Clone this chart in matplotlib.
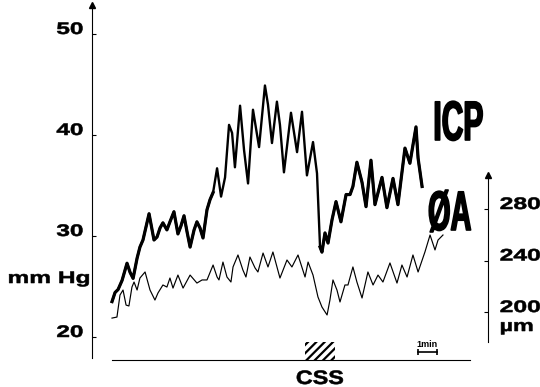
import matplotlib
matplotlib.use("Agg")
import matplotlib.pyplot as plt
from matplotlib import patheffects
from matplotlib.patches import Rectangle
from matplotlib.transforms import Affine2D

# ---- data -----------------------------------------------------------------
# intracranial pressure (mm Hg) against time (min)
icp_t = [0.00, 0.16, 0.32, 0.53, 0.79, 0.95, 1.11, 1.32, 1.47, 1.63, 1.95, 2.21,
         2.37, 2.53, 2.68, 2.89, 3.05, 3.26, 3.47, 3.63, 3.79, 3.95, 4.11, 4.32,
         4.47, 4.63, 4.79, 5.00, 5.16, 5.32, 5.53, 5.74, 5.95, 6.16, 6.32, 6.47,
         6.74, 6.95, 7.16, 7.42, 7.74, 8.05, 8.21, 8.42, 8.68, 8.84, 9.05, 9.42,
         9.74, 10.00, 10.26, 10.58, 10.79, 10.95, 11.05, 11.21, 11.37, 11.58,
         11.79, 12.05, 12.32, 12.53, 12.68, 12.89, 13.16, 13.37, 13.63, 13.84,
         14.21, 14.47, 14.79, 15.05, 15.42, 15.68, 16.00, 16.11, 16.32]
icp_mmhg = [23.5, 24.4, 24.7, 25.6, 27.3, 26.4, 25.8, 27.8, 28.9, 29.6, 32.2, 29.6,
            29.9, 30.8, 31.3, 30.6, 31.4, 32.4, 30.2, 31.0, 32.0, 30.4, 28.9, 30.6,
            31.4, 30.8, 29.8, 32.6, 33.6, 34.3, 36.7, 33.9, 35.8, 41.0, 40.2, 36.8,
            42.9, 38.5, 35.2, 42.5, 38.8, 44.9, 43.0, 39.2, 43.3, 41.0, 36.3, 42.2,
            38.3, 42.3, 36.0, 39.3, 36.2, 28.9, 28.4, 30.3, 29.3, 31.6,
            33.4, 31.4, 34.1, 34.1, 34.9, 37.3, 35.3, 32.9, 37.5, 33.1,
            35.8, 32.8, 35.7, 33.1, 38.7, 37.2, 40.8, 37.7, 34.9]

# pial arteriolar diameter (um) against time (min)
da_t = [0.00, 0.26, 0.42, 0.58, 0.74, 0.89, 1.05, 1.16, 1.32, 1.47, 1.74, 2.00,
        2.26, 2.42, 2.68, 2.89, 3.05, 3.21, 3.47, 3.74, 4.11, 4.47, 4.74, 5.00,
        5.32, 5.53, 5.63, 5.84, 6.05, 6.26, 6.37, 6.63, 6.89, 7.05, 7.26, 7.53,
        7.68, 7.95, 8.21, 8.47, 8.84, 9.21, 9.47, 9.79, 10.16, 10.32, 10.58,
        10.84, 11.05, 11.32, 11.47, 11.63, 11.84, 12.00, 12.26, 12.42, 12.68,
        12.89, 13.16, 13.47, 13.74, 14.00, 14.26, 14.63, 15.00, 15.26, 15.53,
        15.84, 16.11, 16.47, 16.74, 17.00, 17.16, 17.42]
da_um = [195.3, 196.1, 213.2, 217.1, 205.4, 204.7, 219.4, 223.3, 217.1, 226.4, 231.1, 217.1,
         209.3, 214.8, 221.0, 219.4, 226.4, 218.6, 228.7, 218.6, 228.7, 222.5, 224.9, 224.9,
         236.5, 227.2, 224.9, 238.8, 227.2, 223.3, 235.0, 244.3, 232.6, 227.2, 242.7, 234.2,
         231.1, 245.8, 235.0, 246.6, 226.4, 240.4, 235.0, 244.3, 227.2, 238.8, 228.7,
         211.7, 203.9, 197.7, 209.3, 224.9, 217.1, 207.8, 221.0, 221.0, 235.0,
         223.3, 210.9, 231.1, 221.0, 228.7, 223.3, 238.1, 222.5, 236.5, 227.2,
         244.3, 231.1, 246.6, 259.8, 248.2, 255.9, 259.8]

icp_ticks = [20, 30, 40, 50]
da_ticks = [200, 240, 280]
css_start, css_end = 10.16, 11.74      # stimulation period (min)
scale_start, scale_len = 16.1, 1.0     # 1 min scale bar

# ---- helpers --------------------------------------------------------------
class Stretch(patheffects.AbstractPathEffect):
    """Draw text glyphs scaled horizontally about an anchor edge."""

    def __init__(self, sx, anchor="left", thicken=0.0):
        super().__init__()
        self.sx = sx
        self.anchor = anchor
        self.thicken = thicken

    def draw_path(self, renderer, gc, tpath, affine, rgbFace=None):
        ext = affine.transform_path(tpath).get_extents()
        x0 = {"left": ext.x0, "right": ext.x1,
              "center": 0.5 * (ext.x0 + ext.x1)}[self.anchor]
        aff = affine + Affine2D().translate(-x0, 0).scale(self.sx, 1).translate(x0, 0)
        gc0 = renderer.new_gc()
        gc0.copy_properties(gc)
        if self.thicken and rgbFace is not None:
            gc0.set_linewidth(self.thicken)
            gc0.set_foreground(rgbFace)
        else:
            gc0.set_linewidth(0)
        renderer.draw_path(gc0, tpath, aff, rgbFace)
        gc0.restore()


FONT = "Liberation Sans"
plt.rcParams["font.family"] = [FONT, "DejaVu Sans"]
plt.rcParams["hatch.linewidth"] = 1.6

W, H = 540, 387
fig = plt.figure(figsize=(W / 100, H / 100), dpi=100)
fig.patch.set_facecolor("white")

# axes frame: left spine at x=92 px, right spine at x=488 px
ax = fig.add_axes([92 / W, (H - 362) / H, 396 / W, 357 / H])
ax.set_xlim(-1.053, 19.79)
ax.set_ylim(17.52, 52.87)
ax2 = ax.twinx()
ax2.set_ylim(161.2, 438.4)
ax.patch.set_visible(False)

# ICP trace (thick) and diameter trace (thin)
ax.plot(icp_t, icp_mmhg, color="black", lw=1.7, solid_joinstyle="round", zorder=3)
thick_a = [i for i, t in enumerate(icp_t) if t <= 5.4]
thick_b = [i for i, t in enumerate(icp_t) if t >= 10.9]
for idx in (thick_a, thick_b):
    ax.plot([icp_t[i] for i in idx], [icp_mmhg[i] for i in idx],
            color="black", lw=2.3, solid_joinstyle="round", zorder=3)
ax2.plot(da_t, da_um, color="black", lw=0.85, solid_joinstyle="round", zorder=3)

# spines
for s in ("top", "right"):
    ax.spines[s].set_visible(False)
for s in ("top", "left", "bottom"):
    ax2.spines[s].set_visible(False)
ax.spines["left"].set_bounds(17.92, 52.87)
ax.spines["left"].set_linewidth(0.8)
ax.spines["bottom"].set_position(("data", 17.72))
ax.spines["bottom"].set_bounds(0, 18.84)
ax.spines["bottom"].set_linewidth(0.8)
ax2.spines["right"].set_bounds(176.7, 306.4)
ax2.spines["right"].set_linewidth(0.8)

# arrow heads on the two vertical axes
ax.plot([0], [1], marker="^", ms=4, color="black", transform=ax.transAxes, clip_on=False)
ax2.plot([1], [306.4], marker="^", ms=4, color="black",
         transform=ax2.get_yaxis_transform(), clip_on=False)

# ticks
ax.set_xticks([])
ax.set_yticks(icp_ticks)
ax.set_yticklabels([str(v) for v in icp_ticks])
ax.tick_params(axis="y", direction="in", length=3, width=0.8, pad=6.5,
               labelsize=12)
for lbl in ax.get_yticklabels():
    lbl.set_fontweight("bold")
    lbl.set_va("baseline")
    lbl.set_path_effects([Stretch(1.46, "right", 0.4)])

ax2.set_yticks(da_ticks)
ax2.set_yticklabels([str(v) for v in da_ticks])
ax2.tick_params(axis="y", direction="in", length=3, width=0.8, pad=8.6,
                labelsize=12)
for lbl in ax2.get_yticklabels():
    lbl.set_fontweight("bold")
    lbl.set_va("baseline")
    lbl.set_path_effects([Stretch(1.48, "left", 0.4)])

# axis unit labels
fig.text(8 / W, (H - 283) / H, "mm Hg", fontsize=12, fontweight="bold",
         ha="left", va="baseline", path_effects=[Stretch(1.47, "left", 0.4)])
fig.text(500 / W, (H - 331) / H, "\u00b5m", fontsize=12, fontweight="bold",
         ha="left", va="baseline", path_effects=[Stretch(1.4, "left", 0.4)])

# trace names
fig.text(484 / W, (H - 140) / H, "ICP", fontsize=40, fontweight="bold",
         ha="right", va="baseline", path_effects=[Stretch(0.54, "right", 1.2)])
fig.text(472 / W, (H - 230) / H, "\u00d8A", fontsize=40, fontweight="bold",
         ha="right", va="baseline", path_effects=[Stretch(0.52, "right", 1.2)])

# stimulation marker and time scale
ax.add_patch(Rectangle((css_start, 17.72), css_end - css_start, 19.50 - 17.72,
                       fill=False, hatch="////", edgecolor="black", lw=0,
                       zorder=2))
fig.text(320 / W, (H - 384) / H, "CSS", fontsize=14, fontweight="bold",
         ha="center", va="baseline", path_effects=[Stretch(1.2, "center", 0.4)])
ax.plot([scale_start, scale_start + scale_len], [18.51, 18.51], color="black",
        lw=1.2, marker="|", ms=4, mew=1.2, clip_on=False)
ax.text(scale_start + scale_len / 2, 18.85, "1min", fontsize=6.5,
        fontweight="bold", ha="center", va="bottom")

fig.savefig("out.png", dpi=100)
